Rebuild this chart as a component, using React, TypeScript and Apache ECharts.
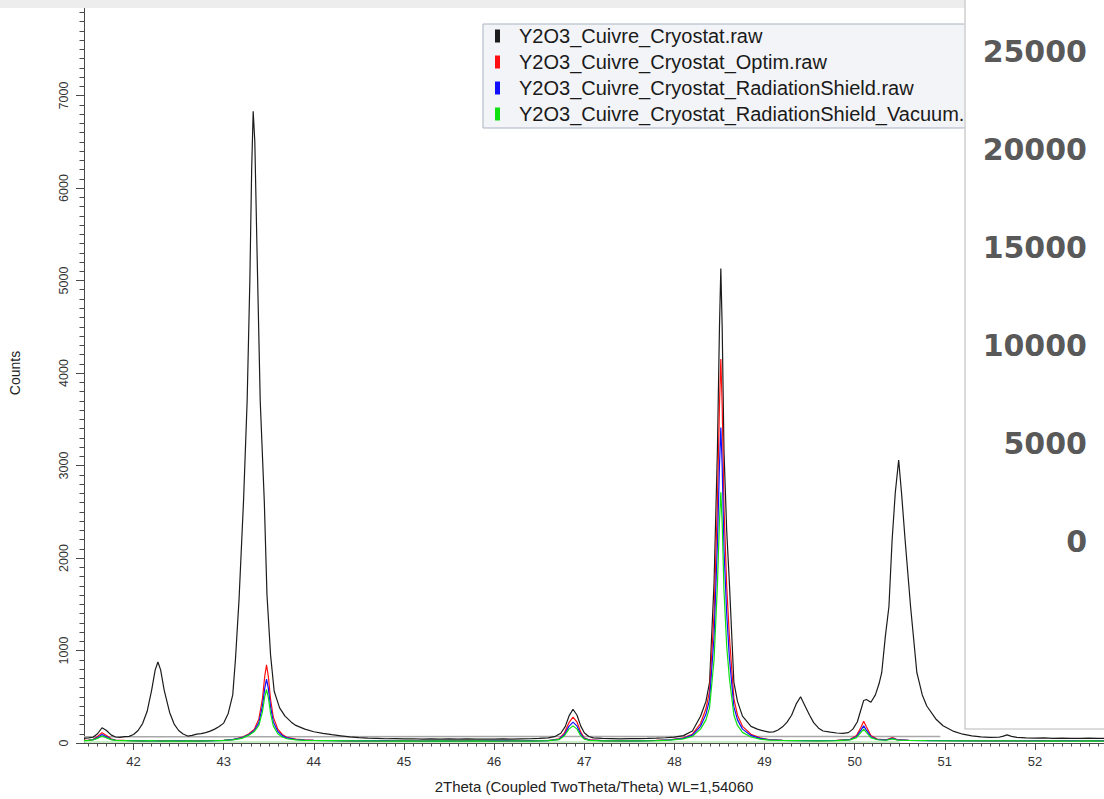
import React, { useEffect, useRef } from "react";
import * as echarts from "echarts";

const seriesNames = [
  "Y2O3_Cuivre_Cryostat.raw",
  "Y2O3_Cuivre_Cryostat_Optim.raw",
  "Y2O3_Cuivre_Cryostat_RadiationShield.raw",
  "Y2O3_Cuivre_Cryostat_RadiationShield_Vacuum.raw",
];
const seriesColors = ["#1c1c1c", "#ff1010", "#1010ff", "#10e010"];

const xMajorTicks = [42, 43, 44, 45, 46, 47, 48, 49, 50, 51, 52];
const rightPanelTicks = [0, 5000, 10000, 15000, 20000, 25000];

const blackCounts = [
  [41.45, 50], [41.5, 55], [41.55, 62], [41.6, 100], [41.65, 165], [41.7, 135], [41.75, 88], [41.8, 65], [41.85, 60], [41.9, 68], [41.95, 72],
  [42.0, 92], [42.05, 135], [42.1, 210], [42.15, 340], [42.2, 570], [42.24, 790], [42.27, 875], [42.3, 790], [42.34, 570], [42.4, 330], [42.45, 205],
  [42.5, 135], [42.55, 98], [42.6, 75], [42.65, 82], [42.7, 96], [42.75, 102], [42.8, 112], [42.85, 128], [42.9, 150], [42.95, 178],
  [43.0, 215], [43.05, 320], [43.1, 520], [43.13, 900], [43.17, 1550], [43.22, 2620], [43.26, 3700], [43.29, 5000], [43.31, 6200], [43.327, 6830],
  [43.345, 6500], [43.37, 5300], [43.405, 3700], [43.45, 2620], [43.48, 1600], [43.52, 950], [43.56, 560], [43.62, 380], [43.68, 290], [43.75, 225],
  [43.8, 190], [43.9, 150], [44.0, 122], [44.1, 104], [44.2, 90], [44.3, 78], [44.4, 66], [44.5, 58], [44.6, 52], [44.7, 50], [44.8, 46], [44.9, 48],
  [45.0, 44], [45.1, 46], [45.2, 42], [45.3, 45], [45.4, 41], [45.5, 44], [45.6, 42], [45.7, 45], [45.8, 41], [45.9, 43], [46.0, 42], [46.1, 45],
  [46.2, 41], [46.3, 44], [46.4, 46], [46.5, 50], [46.6, 56], [46.68, 72], [46.74, 105], [46.79, 180], [46.83, 290], [46.875, 365], [46.92, 300],
  [46.96, 185], [47.0, 110], [47.05, 70], [47.1, 56], [47.2, 49], [47.3, 47], [47.4, 45], [47.5, 47], [47.6, 48], [47.7, 50], [47.8, 53], [47.9, 57],
  [48.0, 63], [48.1, 80], [48.2, 130], [48.29, 290], [48.35, 450], [48.39, 655], [48.44, 1730], [48.477, 3160], [48.5, 4500], [48.515, 5130],
  [48.53, 4500], [48.55, 3160], [48.58, 2300], [48.61, 1730], [48.66, 655], [48.7, 450], [48.755, 290], [48.85, 180], [48.92, 150], [49.0, 128],
  [49.05, 118], [49.1, 120], [49.15, 140], [49.2, 175], [49.25, 225], [49.3, 300], [49.35, 420], [49.4, 500], [49.44, 420], [49.5, 300], [49.545, 220],
  [49.6, 160], [49.65, 130], [49.73, 118], [49.8, 108], [49.87, 104], [49.93, 112], [49.98, 150], [50.03, 230], [50.06, 330], [50.1, 460], [50.13, 470],
  [50.18, 440], [50.23, 520], [50.27, 640], [50.3, 760], [50.34, 1150], [50.38, 1476], [50.415, 2190], [50.45, 2700], [50.488, 3060], [50.52, 2700],
  [50.56, 2190], [50.62, 1476], [50.69, 760], [50.75, 520], [50.8, 400], [50.9, 260], [50.98, 186], [51.1, 125], [51.2, 95], [51.3, 78], [51.4, 66],
  [51.5, 60], [51.6, 62], [51.65, 75], [51.69, 88], [51.74, 72], [51.8, 60], [51.9, 56], [52.0, 53], [52.1, 55], [52.2, 50], [52.3, 53], [52.4, 51],
  [52.5, 49], [52.6, 52], [52.7, 50], [52.77, 51],
];

const redCounts = [
  [41.45, 28], [41.5, 32], [41.55, 38], [41.6, 70], [41.65, 112], [41.7, 80], [41.75, 45], [41.8, 32], [41.9, 28], [42.0, 26], [42.1, 24], [42.2, 27],
  [42.3, 22], [42.4, 25], [42.5, 21], [42.6, 24], [42.7, 22], [42.8, 25], [42.9, 27], [43.0, 30], [43.1, 38], [43.2, 60], [43.28, 100], [43.34, 150],
  [43.39, 260], [43.43, 480], [43.455, 720], [43.475, 845], [43.495, 720], [43.52, 470], [43.55, 280], [43.6, 150], [43.65, 92], [43.7, 62], [43.8, 42],
  [43.9, 34], [44.0, 30], [44.2, 27], [44.4, 24], [44.6, 26], [44.8, 22], [45.0, 25], [45.2, 21], [45.4, 24], [45.6, 22], [45.8, 25], [46.0, 21],
  [46.2, 24], [46.4, 23], [46.6, 27], [46.72, 45], [46.78, 110], [46.83, 220], [46.875, 280], [46.92, 225], [46.96, 120], [47.0, 55], [47.06, 33],
  [47.2, 26], [47.4, 24], [47.6, 25], [47.8, 28], [47.95, 35], [48.1, 55], [48.2, 95], [48.29, 210], [48.35, 370], [48.39, 560], [48.44, 1400],
  [48.477, 2600], [48.5, 3650], [48.515, 4150], [48.53, 3650], [48.55, 2550], [48.58, 1700], [48.61, 1150], [48.66, 480], [48.7, 300], [48.755, 180],
  [48.85, 95], [48.95, 55], [49.05, 38], [49.2, 30], [49.4, 27], [49.6, 26], [49.8, 28], [49.95, 40], [50.02, 80], [50.07, 170], [50.1, 235],
  [50.13, 175], [50.18, 80], [50.25, 42], [50.35, 35], [50.42, 58], [50.47, 38], [50.6, 30], [50.8, 27], [51.0, 26], [51.2, 25], [51.4, 24],
  [51.6, 25], [51.8, 24], [52.0, 23], [52.2, 25], [52.4, 23], [52.6, 24], [52.77, 23],
];

const blueCounts = [
  [41.45, 27], [41.5, 30], [41.55, 35], [41.6, 58], [41.65, 92], [41.7, 66], [41.75, 40], [41.8, 30], [41.9, 27], [42.0, 25], [42.1, 23], [42.2, 26],
  [42.3, 21], [42.4, 24], [42.5, 22], [42.6, 23], [42.7, 21], [42.8, 24], [42.9, 26], [43.0, 29], [43.1, 36], [43.2, 55], [43.28, 92], [43.34, 135],
  [43.39, 220], [43.43, 400], [43.455, 590], [43.475, 690], [43.495, 590], [43.52, 390], [43.55, 230], [43.6, 125], [43.65, 80], [43.7, 55], [43.8, 38],
  [43.9, 32], [44.0, 28], [44.2, 26], [44.4, 23], [44.6, 25], [44.8, 22], [45.0, 24], [45.2, 21], [45.4, 23], [45.6, 21], [45.8, 24], [46.0, 22],
  [46.2, 23], [46.4, 22], [46.6, 26], [46.72, 40], [46.78, 92], [46.83, 180], [46.875, 225], [46.92, 182], [46.96, 98], [47.0, 48], [47.06, 31],
  [47.2, 25], [47.4, 23], [47.6, 24], [47.8, 27], [47.95, 33], [48.1, 50], [48.2, 85], [48.29, 180], [48.35, 310], [48.39, 470], [48.44, 1150],
  [48.477, 2150], [48.5, 3000], [48.515, 3410], [48.53, 3000], [48.55, 2100], [48.58, 1400], [48.61, 920], [48.66, 390], [48.7, 250], [48.755, 150],
  [48.85, 82], [48.95, 50], [49.05, 35], [49.2, 28], [49.4, 26], [49.6, 25], [49.8, 27], [49.95, 37], [50.02, 68], [50.07, 140], [50.1, 185],
  [50.13, 140], [50.18, 68], [50.25, 38], [50.35, 32], [50.42, 50], [50.47, 35], [50.6, 28], [50.8, 26], [51.0, 25], [51.2, 24], [51.4, 23],
  [51.6, 24], [51.8, 23], [52.0, 22], [52.2, 24], [52.4, 22], [52.6, 23], [52.77, 22],
];

const greenCounts = [
  [41.45, 26], [41.5, 29], [41.55, 33], [41.6, 50], [41.65, 75], [41.7, 55], [41.75, 36], [41.8, 28], [41.9, 26], [42.0, 24], [42.1, 22], [42.2, 25],
  [42.3, 20], [42.4, 23], [42.5, 21], [42.6, 22], [42.7, 20], [42.8, 23], [42.9, 25], [43.0, 28], [43.1, 34], [43.2, 50], [43.28, 85], [43.34, 125],
  [43.39, 190], [43.43, 340], [43.455, 500], [43.475, 580], [43.495, 490], [43.52, 320], [43.55, 185], [43.6, 100], [43.65, 65], [43.7, 46], [43.8, 34],
  [43.9, 29], [44.0, 27], [44.2, 25], [44.4, 22], [44.6, 24], [44.8, 21], [45.0, 23], [45.2, 20], [45.4, 22], [45.6, 21], [45.8, 23], [46.0, 21],
  [46.2, 22], [46.4, 21], [46.6, 25], [46.72, 36], [46.78, 78], [46.83, 150], [46.875, 185], [46.92, 150], [46.96, 80], [47.0, 42], [47.06, 29],
  [47.2, 24], [47.4, 22], [47.6, 23], [47.8, 26], [47.95, 31], [48.1, 45], [48.2, 72], [48.29, 150], [48.35, 250], [48.39, 380], [48.44, 900],
  [48.477, 1700], [48.5, 2400], [48.515, 2710], [48.53, 2380], [48.55, 1650], [48.58, 1050], [48.61, 700], [48.66, 300], [48.7, 190], [48.755, 115],
  [48.85, 65], [48.95, 42], [49.05, 32], [49.2, 27], [49.4, 25], [49.6, 24], [49.8, 26], [49.95, 34], [50.02, 58], [50.07, 115], [50.1, 150],
  [50.13, 115], [50.18, 58], [50.25, 35], [50.35, 30], [50.42, 45], [50.47, 32], [50.6, 27], [50.8, 25], [51.0, 24], [51.2, 23], [51.4, 22],
  [51.6, 23], [51.8, 22], [52.0, 21], [52.2, 23], [52.4, 21], [52.6, 22], [52.77, 21],
];

const backgroundGray = [[41.45, 68], [50.95, 70]];
const backgroundGreen = [[41.45, 12], [50.5, 12]];

const X_MIN = 41.45;
const X_MAX = 52.766;

function buildMinorTicks(): number[] {
  const out: number[] = [];
  for (let i = 415; i <= 527; i++) {
    if (i % 10 !== 0) out.push(i / 10);
  }
  return out;
}

export default function App() {
  const ref = useRef<HTMLDivElement>(null);

  useEffect(() => {
    document.body.style.margin = "0";
    if (!ref.current) return;
    const chart = echarts.init(ref.current, null, { renderer: "svg" });
    const axisColor = "#4a4a4a";
    const font = "'Liberation Sans', Arial, sans-serif";
    const patterns = [blackCounts, redCounts, blueCounts, greenCounts];

    chart.setOption({
      animation: false,
      backgroundColor: "#ffffff",
      color: seriesColors,
      grid: [
        { left: 81, right: 0, top: 0, bottom: 55, containLabel: false },
        { left: 1095, width: 5, top: 51, height: 490, containLabel: false },
      ],
      legend: {
        data: seriesNames,
        orient: "vertical",
        left: 483,
        top: 24,
        padding: [2, 24, 4, 12],
        itemWidth: 5,
        itemHeight: 13,
        itemGap: 6,
        icon: "rect",
        selectedMode: false,
        backgroundColor: "#f3f4f7",
        borderColor: "#a9b3c2",
        borderWidth: 1,
        z: 50,
        textStyle: {
          fontSize: 20,
          lineHeight: 20,
          color: "#1a1a1a",
          fontFamily: font,
          padding: [0, 0, 0, 14],
        },
      },
      xAxis: [
        {
          type: "value",
          gridIndex: 0,
          min: X_MIN,
          max: X_MAX,
          position: "bottom",
          name: "2Theta (Coupled TwoTheta/Theta) WL=1,54060",
          nameLocation: "middle",
          nameGap: 36,
          nameTextStyle: { fontSize: 15, color: "#222", fontFamily: font },
          axisLine: { show: true, onZero: false, lineStyle: { color: axisColor, width: 1 } },
          axisTick: { show: true, length: 7, customValues: xMajorTicks, lineStyle: { color: axisColor } },
          axisLabel: { show: true, customValues: xMajorTicks, margin: 12, fontSize: 13, color: "#333", fontFamily: font },
          splitLine: { show: false },
        },
        {
          type: "value",
          gridIndex: 0,
          min: X_MIN,
          max: X_MAX,
          position: "bottom",
          axisLine: { show: false },
          axisTick: { show: true, length: 3.5, customValues: buildMinorTicks(), lineStyle: { color: axisColor } },
          axisLabel: { show: false },
          splitLine: { show: false },
        },
        { type: "value", gridIndex: 1, show: false },
      ],
      yAxis: [
        {
          type: "value",
          gridIndex: 0,
          min: 0,
          max: 8000,
          interval: 1000,
          name: "Counts",
          nameLocation: "middle",
          nameGap: 62,
          nameRotate: 90,
          nameTextStyle: { fontSize: 14, color: "#222", fontFamily: font },
          axisLine: { show: true, onZero: false, lineStyle: { color: axisColor, width: 1 } },
          axisTick: { show: true, length: 8, lineStyle: { color: axisColor } },
          minorTick: { show: true, splitNumber: 10, length: 4.5, lineStyle: { color: axisColor } },
          axisLabel: {
            rotate: 90,
            margin: 14,
            fontSize: 12.5,
            color: "#333",
            fontFamily: font,
            formatter: (v: number) => (v >= 8000 ? "" : String(v)),
          },
          splitLine: { show: false },
          minorSplitLine: { show: false },
        },
        {
          type: "value",
          gridIndex: 1,
          min: 0,
          max: 25000,
          interval: 5000,
          z: 110,
          axisLine: { show: false },
          axisTick: { show: false },
          splitLine: { show: false },
          axisLabel: {
            margin: 8,
            fontSize: 30,
            fontWeight: "bold",
            color: "#595959",
            fontFamily: "'DejaVu Sans', sans-serif",
            customValues: rightPanelTicks,
            formatter: (v: number) => String(v),
          },
        },
      ],
      graphic: [
        {
          type: "rect",
          z: 90,
          shape: { x: 0, y: 0, width: 966, height: 8 },
          style: { fill: "#ededed" },
          silent: true,
        },
        {
          type: "rect",
          z: 100,
          shape: { x: 965, y: -5, width: 150, height: 734 },
          style: { fill: "#ffffff", stroke: "#cfcfcf", lineWidth: 1.5 },
          silent: true,
        },
      ],
      series: [
        {
          type: "line",
          name: "background",
          xAxisIndex: 0,
          yAxisIndex: 0,
          data: backgroundGreen,
          showSymbol: false,
          lineStyle: { color: "#b6e6b0", width: 1.5 },
          itemStyle: { color: "#b6e6b0" },
          z: 1,
        },
        {
          type: "line",
          name: "background gray",
          xAxisIndex: 0,
          yAxisIndex: 0,
          data: backgroundGray,
          showSymbol: false,
          lineStyle: { color: "#a8a8a8", width: 1.5 },
          itemStyle: { color: "#a8a8a8" },
          z: 1,
        },
        ...patterns.map((d, i) => ({
          type: "line",
          name: seriesNames[i],
          xAxisIndex: 0,
          yAxisIndex: 0,
          data: d,
          showSymbol: false,
          lineStyle: { color: seriesColors[i], width: 1.2 },
          itemStyle: { color: seriesColors[i] },
          z: 2 + i,
        })),
      ],
    });

    return () => chart.dispose();
  }, []);

  return <div ref={ref} style={{ width: 1104, height: 799 }} />;
}
